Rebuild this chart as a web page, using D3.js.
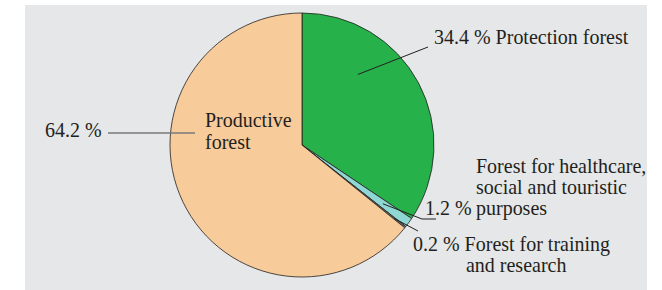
<!DOCTYPE html>
<html>
<head>
<meta charset="utf-8">
<script src="https://cdn.jsdelivr.net/npm/d3@7"></script>
<style>
  html, body { margin: 0; padding: 0; background: #ffffff; }
  svg { display: block; }
  text { font-family: "Liberation Serif", "Times New Roman", serif; font-size: 21.5px; fill: #231f20; }
</style>
</head>
<body>
<svg id="chart" width="662" height="290"></svg>
<script>
// ---- data ----
const categories = ["Protection forest", "Forest for healthcare, social and touristic purposes", "Forest for training and research", "Productive forest"];
const values = [34.4, 1.2, 0.2, 64.2];
const valueLabels = ["34.4 %", "1.2 %", "0.2 %", "64.2 %"];
const colors = ["#27b14b", "#8ed7d3", "#6d6e70", "#f7cb9a"];

// ---- layout ----
const W = 662, H = 290;
const cx = 302, cy = 145, R = 132;
const SX = 0.93;
const svg = d3.select("#chart");

svg.append("rect").attr("x", 25).attr("y", 5).attr("width", 622).attr("height", 285).attr("fill", "#e6e7e8");

const pie = d3.pie().sort(null).value(d => d).startAngle(0).endAngle(2 * Math.PI);
const arcs = pie(values);
const arc = d3.arc().innerRadius(0).outerRadius(R);

const g = svg.append("g").attr("transform", `translate(${cx},${cy})`);
g.selectAll("path.slice")
  .data(arcs)
  .join("path")
  .attr("class", "slice")
  .attr("d", arc)
  .attr("fill", (d, i) => colors[i])
  .attr("stroke", "#231f20")
  .attr("stroke-width", 0.8)
  .attr("stroke-linejoin", "round");

function pt(a, r) { return [cx + r * Math.sin(a), cy - r * Math.cos(a)]; }

// text helper: lines = [[dx, dy, string], ...] relative to (x, y)
function label(x, y, lines) {
  const t = svg.append("text").attr("transform", `translate(${x},${y}) scale(${SX},1)`);
  lines.forEach(([dx, dy, s]) => {
    t.append("tspan").attr("x", dx / SX).attr("y", dy).text(s);
  });
}

const lineColor = "#231f20";
// Protection forest
{
  const a = arcs[0].startAngle + (arcs[0].endAngle - arcs[0].startAngle) * 0.31;
  const p0 = pt(a, 90);
  svg.append("line").attr("x1", p0[0]).attr("y1", p0[1]).attr("x2", 428).attr("y2", 47)
    .attr("stroke", lineColor).attr("stroke-width", 1);
  label(434, 44, [[0, 0, valueLabels[0] + " Protection forest"]]);
}
// Healthcare
{
  const a = (arcs[1].startAngle + arcs[1].endAngle) / 2;
  const p0 = pt(a, 100);
  svg.append("polyline")
    .attr("points", [[p0[0], p0[1]], [422, 219], [436, 219]].map(p => p.join(",")).join(" "))
    .attr("fill", "none").attr("stroke", lineColor).attr("stroke-width", 1);
  label(425, 215, [[0, 0, valueLabels[1]]]);
  label(476, 172.5, [[0, 0, "Forest for healthcare,"], [0, 21.3, "social and touristic"], [0, 42.6, "purposes"]]);
}
// Training
{
  const a = (arcs[2].startAngle + arcs[2].endAngle) / 2;
  const p0 = pt(a, 118);
  svg.append("line").attr("x1", p0[0]).attr("y1", p0[1]).attr("x2", 418).attr("y2", 231)
    .attr("stroke", lineColor).attr("stroke-width", 1);
  label(413, 251, [[0, 0, valueLabels[2] + " Forest for training"], [53, 21.5, "and research"]]);
}
// Productive forest
{
  svg.append("line").attr("x1", 108).attr("y1", 133).attr("x2", 195).attr("y2", 133)
    .attr("stroke", "#77787b").attr("stroke-width", 1.3);
  label(45, 137, [[0, 0, valueLabels[3]]]);
  label(205, 126.5, [[0, 0, "Productive"], [0, 22.5, "forest"]]);
}
</script>
</body>
</html>
